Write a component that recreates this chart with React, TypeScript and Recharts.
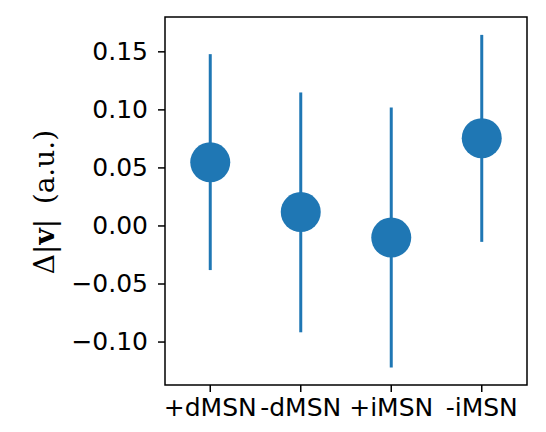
import { ScatterChart, Scatter, XAxis, YAxis, ErrorBar, ReferenceArea } from 'recharts'

const groups = ['+dMSN', '-dMSN', '+iMSN', '-iMSN']
const means = [0.0548, 0.012, -0.01, 0.0756]
const upper = [0.148, 0.115, 0.102, 0.1646]
const lower = [-0.038, -0.0916, -0.122, -0.0137]
const yTicks = [-0.1, -0.05, 0, 0.05, 0.1, 0.15]

const data = groups.map((g, i) => ({
  x: i,
  y: means[i],
  err: [means[i] - lower[i], upper[i] - means[i]],
}))

const blue = '#1f77b4'
const tickStyle = { fontFamily: 'DejaVu Sans', fontSize: 25, fill: '#000' }

const fmtY = (v: number) => {
  const s = Math.abs(v).toFixed(2)
  return v < -1e-9 ? '\u2212' + s : s
}

const Dot = (props: any) => <circle cx={props.cx} cy={props.cy} r={20} fill={blue} />

const XTick = (props: any) => (
  <text x={props.x} y={props.y} dy={20} textAnchor="middle" style={tickStyle}>
    {groups[props.payload.value]}
  </text>
)

const YTick = (props: any) => (
  <text x={props.x} y={props.y} dy={8} textAnchor="end" style={tickStyle}>
    {fmtY(props.payload.value)}
  </text>
)

const YLabel = () => (
  <text
    x={0}
    y={0}
    transform="translate(44, 202) rotate(-90)"
    textAnchor="middle"
    dominantBaseline="central"
    style={{ fontFamily: 'DejaVu Serif', fontSize: 28, fill: '#000' }}
  >
    <tspan>Δ|</tspan>
    <tspan fontWeight="bold">v</tspan>
    <tspan>{'|\u00A0\u2009(a.u.)'}</tspan>
  </text>
)

export default function App() {
  return (
    <div style={{ position: 'absolute', left: 0, top: 0, background: '#fff' }}>
      <ScatterChart width={546} height={432} margin={{ top: 17, right: 19, bottom: 7, left: 0 }}>
        <XAxis
          type="number"
          dataKey="x"
          domain={[-0.5, 3.5]}
          ticks={[0, 1, 2, 3]}
          axisLine={false}
          tickLine={{ stroke: '#000', strokeWidth: 1.5 }}
          tickSize={7}
          tickMargin={4}
          tick={<XTick />}
          height={40}
          interval={0}
        />
        <YAxis
          type="number"
          dataKey="y"
          domain={[-0.137, 0.18]}
          ticks={yTicks}
          axisLine={false}
          tickLine={{ stroke: '#000', strokeWidth: 1.5 }}
          tickSize={7}
          tickMargin={10}
          tick={<YTick />}
          width={165}
          label={{ content: () => <YLabel /> }}
        />
        <ReferenceArea
          x1={-0.5}
          x2={3.5}
          y1={-0.137}
          y2={0.18}
          fill="none"
          stroke="#000"
          strokeWidth={1.5}
          fillOpacity={0}
        />
        <Scatter data={data} fill={blue} shape={Dot} isAnimationActive={false}>
          <ErrorBar dataKey="err" direction="y" width={0} stroke={blue} strokeWidth={3} />
        </Scatter>
      </ScatterChart>
    </div>
  )
}
